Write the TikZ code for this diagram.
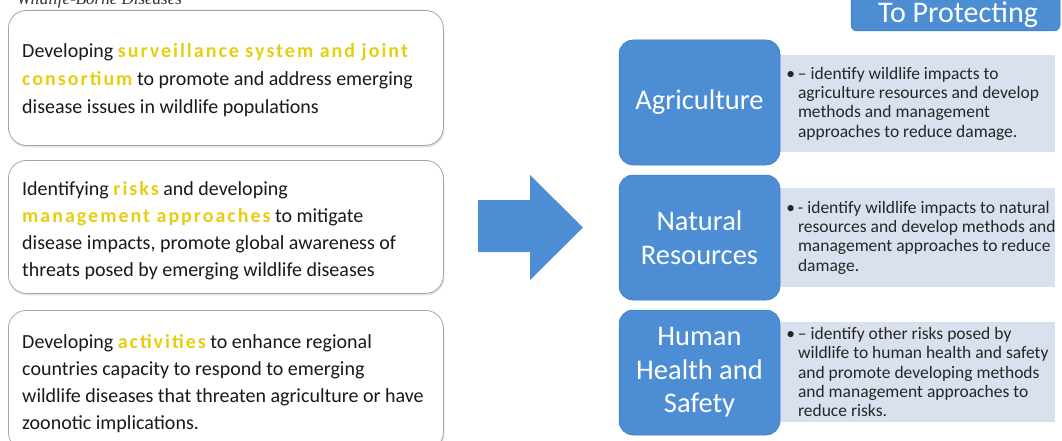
\documentclass[tikz,border=0pt]{standalone}
\usepackage{fontspec}
\setmainfont{Carlito}
\newfontfamily\titlefont{Liberation Serif}
\newfontfamily\hlfont[LetterSpace=10]{Carlito}
\usetikzlibrary{shadows}
\definecolor{hl}{RGB}{232,206,16}
\definecolor{myblue}{RGB}{76,141,211}
\definecolor{blueedge}{RGB}{60,120,190}
\definecolor{panelc}{RGB}{217,225,238}
\definecolor{boxline}{RGB}{165,165,165}
\newcommand{\hlw}[1]{{\hlfont\bfseries\color{hl}#1}}
\begin{document}
\begin{tikzpicture}[x=1pt,y=-1pt,
  leftbox/.style={draw=boxline, line width=0.8pt, rounded corners=18pt, fill=white,
    drop shadow={shadow xshift=1pt, shadow yshift=-2pt, opacity=0.22}},
  lefttext/.style={anchor=north west, align=left, inner sep=0pt,
    font=\fontsize{20}{27}\selectfont, text=black!90},
  bluebox/.style={fill=myblue, draw=blueedge, line width=0.5pt, rounded corners=14pt,
    text=white, align=center, font=\fontsize{28.5}{33.5}\selectfont},
  panelbox/.style={fill=panelc, minimum width=275, inner sep=0pt},
  paneltext/.style={anchor=west, align=left, inner sep=0pt,
    font=\fontsize{17.5}{19.3}\selectfont, text=black!85},
  titletext/.style={font=\titlefont\itshape\fontsize{17}{20}\selectfont, text=black!80, inner sep=0pt}
]
\useasboundingbox (0,0) rectangle (1062,441);
\clip (0,0) rectangle (1062,441);
\fill[white] (0,0) rectangle (1062,441);

% cropped title
\node[titletext, anchor=base west] (title) at (17,5) {Wildlife-Borne Diseases};

% left boxes
\node[leftbox, minimum width=435, minimum height=135, anchor=north west] (b1) at (8,10) {};
\node[leftbox, minimum width=435, minimum height=133, anchor=north west] (b2) at (8,160) {};
\node[leftbox, minimum width=435, minimum height=140, anchor=north west] (b3) at (8,310) {};

\node[lefttext, font=\fontsize{20}{28}\selectfont] (t1) at (22,43) {Developing \hlw{surveillance system and joint}\\
  \hlw{consortium} to promote and address emerging\\
  disease issues in wildlife populations};
\node[lefttext] (t2) at (22,181) {Identifying \hlw{risks} and developing\\
  \hlw{management approaches} to mitigate\\
  disease impacts, promote global awareness of\\
  threats posed by emerging wildlife diseases};
\node[lefttext] (t3) at (22,334) {Developing \hlw{activities} to enhance regional\\
  countries capacity to respond to emerging\\
  wildlife diseases that threaten agriculture or have\\
  zoonotic implications.};

% block arrow
\fill[myblue] (478,200) -- (530,200) -- (530,175) -- (583,227.5) -- (530,280)
  -- (530,252) -- (478,252) -- cycle;

% top label
\node[bluebox, rounded corners=6pt, minimum width=209, minimum height=44] (tp) at (955.5,9) {};
\node[anchor=base, inner sep=0pt, text=white, font=\fontsize{30}{34}\selectfont] (tpt) at (958,23) {To Protecting};

% panels
\node[panelbox, minimum height=97] (p1) at (917.5,103.5) {};
\node[panelbox, minimum height=99] (p2) at (917.5,237.5) {};
\node[panelbox, minimum height=100] (p3) at (917.5,372) {};

\node[paneltext] (pt1) at ([xshift=18]p1.west) {\llap{•\,}– identify wildlife impacts to\\
  agriculture resources and develop\\
  methods and management\\
  approaches to reduce damage.};
\node[paneltext] (pt2) at ([xshift=18]p2.west) {\llap{•\,}- identify wildlife impacts to natural\\
  resources and develop methods and\\
  management approaches to reduce\\
  damage.};
\node[paneltext] (pt3) at ([xshift=18]p3.west) {\llap{•\,}– identify other risks posed by\\
  wildlife to human health and safety\\
  and promote developing methods\\
  and management approaches to\\
  reduce risks.};

% blue category boxes
\node[bluebox, minimum width=161, minimum height=125] (ag) at (699.5,102.5) {Agriculture};
\node[bluebox, minimum width=161, minimum height=125] (nr) at (699.5,237.5) {Natural\\Resources};
\node[bluebox, minimum width=161, minimum height=125] (hh) at (699.5,372.5) {Human\\Health and\\Safety};
\end{tikzpicture}
\end{document}
